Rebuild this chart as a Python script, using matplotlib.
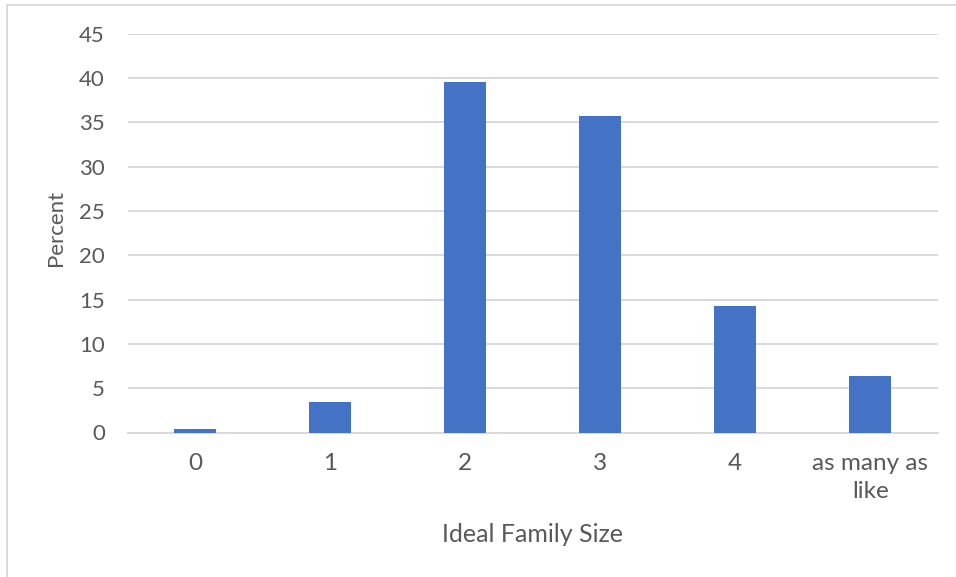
import numpy as np
import matplotlib
matplotlib.use('Agg')
import matplotlib.pyplot as plt
from matplotlib.lines import Line2D

# Data
categories = ['0', '1', '2', '3', '4', 'as many as\nlike']
percent = [0.35, 3.45, 39.6, 35.7, 14.3, 6.4]
yticks = [0, 5, 10, 15, 20, 25, 30, 35, 40, 45]

plt.rcParams['font.family'] = ['Lato', 'DejaVu Sans']
txt = '#595959'
grid = '#d9d9d9'
bar_col = '#4472c4'
W, H = 956., 577.

fig = plt.figure(figsize=(W/100, H/100), dpi=100)
ax = fig.add_axes([127.7/W, 1-432.5/H, (937.7-127.7)/W, (432.5-33.7)/H])

xx = np.arange(len(categories))
ax.bar(xx, percent, width=0.31, color=bar_col, zorder=3)

ax.set_xlim(-0.5, len(categories)-0.5)
ax.set_ylim(0, 45)
ax.set_yticks(yticks)
ax.set_xticks(xx)
ax.set_xticklabels(categories, linespacing=1.42)
ax.yaxis.grid(True, color=grid, lw=1.4, zorder=0)
ax.set_axisbelow(True)
for s in ['top', 'right', 'left']:
    ax.spines[s].set_visible(False)
ax.spines['bottom'].set_color(grid)
ax.spines['bottom'].set_linewidth(1.4)
ax.tick_params(axis='both', length=0, colors=txt)
ax.tick_params(axis='y', pad=16.5, labelsize=16)
ax.tick_params(axis='x', pad=14.5, labelsize=17.5)

# axis titles placed where the reference has them
fig.text(55.5/W, 1-227.5/H, 'Percent', rotation=90, fontsize=16, color=txt,
         ha='center', va='center')
fig.text(533/W, 1-534/H, 'Ideal Family Size', fontsize=18, color=txt,
         ha='center', va='center')

# chart area border (cut off at right and bottom edges)
fig.add_artist(Line2D([6.5/W, 6.5/W], [0, 1-4.5/H], color=grid, lw=1.4,
                      transform=fig.transFigure))
fig.add_artist(Line2D([6.5/W, 1], [1-4.5/H, 1-4.5/H], color=grid, lw=1.4,
                      transform=fig.transFigure))

fig.savefig('out.png', dpi=100)
